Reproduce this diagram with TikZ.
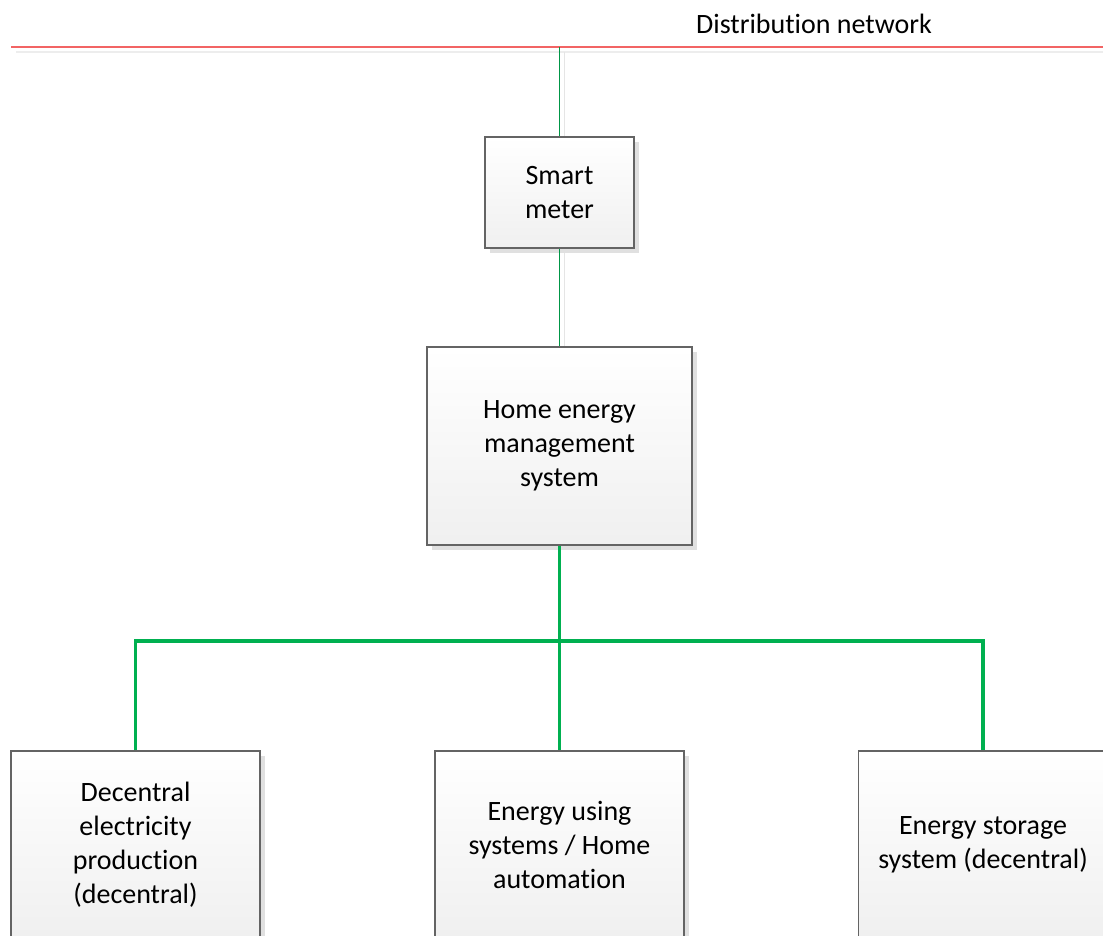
\documentclass[tikz,border=0pt]{standalone}
\usepackage{fontspec}
\setmainfont[Ligatures={NoCommon,NoContextual},Contextuals=NoAlternate]{Carlito}
\usepackage{tikz}
\usetikzlibrary{shadows,positioning,calc}
\definecolor{gridred}{RGB}{242,100,100}
\definecolor{busgreen}{RGB}{0,176,80}
\definecolor{tapgreen}{RGB}{0,150,70}
\definecolor{boxgray}{RGB}{100,100,100}
\tikzstyle{Hbox}=[shape=rectangle,draw=boxgray,line width=1.2pt,top color=white,bottom color=black!6,align=center,font=\fontsize{28}{34}\selectfont,drop shadow={shadow xshift=5pt,shadow yshift=-5pt,fill=black!12,opacity=1}]
\tikzstyle{thinlink}=[tapgreen,line width=1.2pt]
\tikzstyle{buslink}=[busgreen,line width=3.5pt]
\tikzstyle{shadowline}=[black!10,line width=1.2pt]

\begin{document}
\begin{tikzpicture}[x=1pt,y=-1pt]
\useasboundingbox (0,0) rectangle (1103,936);
\clip (0,0) rectangle (1103,936);

% distribution network
\draw[black!7,line width=2pt] (16,52) -- (1103,52);
\coordinate (gridL) at (11,47);
\coordinate (gridR) at (1103,47);
\coordinate (tap) at (559.5,47);
\draw[gridred,line width=1.6pt] (gridL) -- (gridR);
\node[anchor=base,font=\fontsize{28}{34}\selectfont] (title) at (814,34) {Distribu\kern0pt tion network};

\draw[shadowline] (564.5,52) -- (564.5,352);

\node[Hbox,minimum width=149pt,minimum height=111pt] (meter) at (559.5,192.5) {Smart\\meter};
\node[Hbox,minimum width=265pt,minimum height=198pt] (hems) at (559.5,446) {Home energy\\management\\system};

\path
(tap) edge [thinlink] (meter)
(meter) edge [thinlink] (hems);

% devices
\node[Hbox,minimum width=249pt,minimum height=188pt] (prod) at (135.5,845) {Decentral\\electricity\\production\\(decentral)};
\node[Hbox,minimum width=249pt,minimum height=188pt] (use) at (559.5,845) {Energy using\\systems / Home\\automation};
\node[Hbox,minimum width=249pt,minimum height=188pt] (store) at (983,845) {Energy storage\\system (decentral)};

\coordinate (bus) at (559.5,641);
\draw[buslink] (hems.south) -- (use.north);
\draw[buslink] (prod.north) |- (bus) -| (store.north);

\end{tikzpicture}
\end{document}
